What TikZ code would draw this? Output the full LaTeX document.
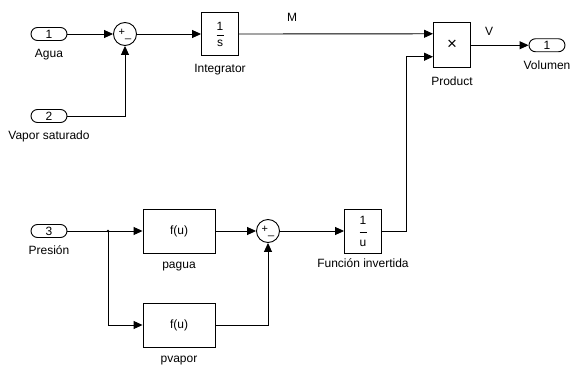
\documentclass[tikz,border=0pt]{standalone}
\usepackage{fontspec}
\setmainfont{Liberation Sans}
\usetikzlibrary{arrows.meta,calc}

\tikzset{
	port/.style={draw, line width=0.9pt, rounded corners=6.5pt, minimum width=36pt, minimum height=13pt, inner sep=0pt, font=\fontsize{12}{12}\selectfont},
	blk/.style={draw, line width=0.9pt, minimum width=37pt, minimum height=44pt, inner sep=0pt, align=center, font=\fontsize{12}{12}\selectfont},
	sumnode/.style={draw, line width=0.9pt, circle, minimum size=23pt, inner sep=0pt, font=\fontsize{11}{11}\selectfont},
	lbl/.style={font=\fontsize{12}{12}\selectfont, inner sep=0pt},
	sig/.style={line width=0.9pt, -{Triangle[length=9pt,width=8pt]}},
}

\begin{document}
\begin{tikzpicture}[x=1pt, y=-1pt, every label/.style={lbl}, label distance=8pt]
	\useasboundingbox (0,0) rectangle (571,367);
	% inputs
	\node[port, label=below:Agua] (in1) at (49,34) {1};
	\node[port, label=below:Vapor saturado] (in2) at (49,116) {2};
	\node[port, label=below:Presión] (in3) at (49,231) {3};
	% upper row
	\node[sumnode] (sum1) at (125,34) {\raisebox{1.5pt}{+}\raisebox{-0.5pt}{\_}};
	\node[blk, minimum height=43pt, label=below:Integrator] (integ) at (220,34) {1\\[-6pt]\rule{7pt}{0.6pt}\\[-2pt]s};
	\node[blk, minimum height=45pt, font=\fontsize{17}{17}\selectfont, label=below:Product] (prod) at (452,45.25) {×};
	\node[port, label=below:Volumen] (out1) at (547,45.25) {1};
	\coordinate (pin1) at ($(prod.north west)!0.25!(prod.south west)$);
	\coordinate (pin2) at ($(prod.north west)!0.75!(prod.south west)$);
	% lower row
	\node[blk, minimum width=72pt, label=below:pagua] (pagua) at (179,231) {f(u)};
	\node[blk, minimum width=72pt, label=below:pvapor] (pvapor) at (179,325) {f(u)};
	\node[sumnode] (sum2) at (268,231) {\raisebox{1.5pt}{+}\raisebox{-0.5pt}{\_}};
	\node[blk, label={[label distance=5pt]below:Función invertida}] (inv) at (363,231) {1\\[-3pt]\rule{7pt}{0.6pt}\\[1pt]u};
	\coordinate (branch) at (108,231);
	\coordinate (turn) at (406,231);
	\fill (branch) circle (1.3pt);
	% signal labels
	\node[lbl] (mlab) at (292,17) {M};
	\node[lbl] (vlab) at (489,31) {V};
	% connections
	\draw[sig] (in1) -- (sum1);
	\draw[sig] (in2.east) -| (sum1.south);
	\draw[sig] (sum1) -- (integ);
	\draw[sig] (integ.east) -- (pin1);
	\draw[sig] (prod) -- (out1);
	\draw[line width=0.9pt] (in3.east) -- (branch);
	\draw[sig] (branch) -- (pagua);
	\draw[sig] (branch) |- (pvapor);
	\draw[sig] (pagua) -- (sum2);
	\draw[sig] (pvapor.east) -| (sum2.south);
	\draw[sig] (sum2) -- (inv);
	\draw[sig] (inv.east) -- (turn) |- (pin2);
\end{tikzpicture}
\end{document}
